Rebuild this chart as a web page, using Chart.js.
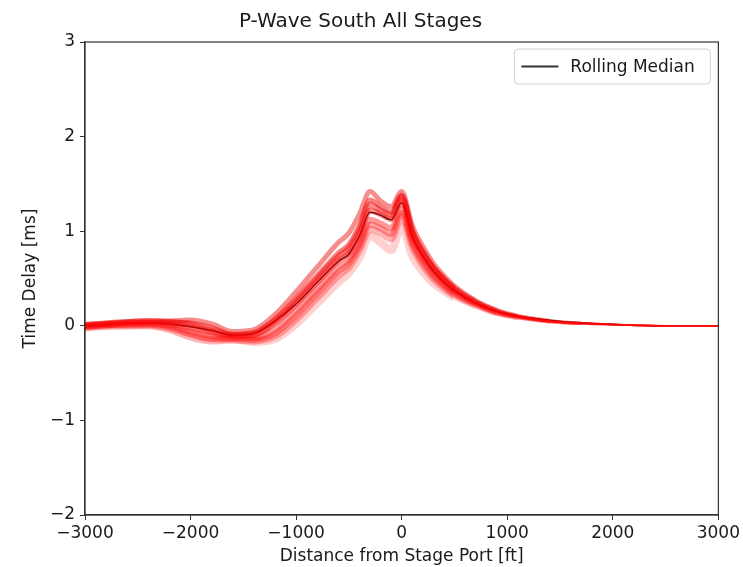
<!DOCTYPE html>
<html>
<head>
<meta charset="utf-8">
<script src="https://cdn.jsdelivr.net/npm/chart.js@4.4.1/dist/chart.umd.min.js"></script>
<style>
  html, body { margin: 0; padding: 0; background: #fff; }
  #wrap { width: 743px; height: 567px; }
</style>
</head>
<body>
<div id="wrap"><canvas id="chart-pwave"></canvas></div>
<script>
// Distance grid shared by all stage traces (ft)
const distances = [-3000, -2700, -2400, -2200, -2000, -1800, -1600, -1400, -1200, -1000, -800, -600, -500, -400, -300, -200, -100, 0, 100, 200, 300, 400, 500, 700, 900, 1100, 1400, 1700, 2100, 2500, 3000];

// Per-stage time delays (ms)
const stageA = [0.01, 0.04, 0.05, 0.05, 0.06, 0.02, -0.06, -0.04, 0.12, 0.36, 0.62, 0.88, 0.98, 1.18, 1.42, 1.32, 1.26, 1.42, 1.06, 0.84, 0.66, 0.53, 0.42, 0.27, 0.17, 0.11, 0.06, 0.03, 0.01, 0.0, 0.0];
const stageB = [0.0, 0.03, 0.04, 0.04, 0.03, -0.02, -0.09, -0.07, 0.07, 0.29, 0.53, 0.77, 0.86, 1.06, 1.33, 1.26, 1.20, 1.38, 1.01, 0.79, 0.62, 0.50, 0.40, 0.26, 0.16, 0.10, 0.05, 0.03, 0.01, 0.0, 0.0];
const stageC = [0.0, 0.02, 0.03, 0.02, -0.02, -0.07, -0.11, -0.10, 0.03, 0.23, 0.46, 0.69, 0.77, 0.96, 1.22, 1.18, 1.13, 1.32, 0.96, 0.75, 0.59, 0.47, 0.37, 0.24, 0.15, 0.10, 0.05, 0.03, 0.01, 0.0, 0.0];
const stageD = [-0.01, 0.01, 0.02, 0.0, -0.06, -0.11, -0.13, -0.13, -0.04, 0.16, 0.39, 0.62, 0.70, 0.88, 1.12, 1.08, 1.03, 1.24, 0.90, 0.70, 0.55, 0.44, 0.35, 0.23, 0.14, 0.09, 0.05, 0.02, 0.01, 0.0, 0.0];
const stageE = [-0.02, 0.0, 0.0, -0.04, -0.12, -0.16, -0.15, -0.16, -0.11, 0.07, 0.30, 0.53, 0.62, 0.80, 1.02, 0.98, 0.92, 1.15, 0.84, 0.64, 0.50, 0.40, 0.32, 0.21, 0.13, 0.08, 0.04, 0.02, 0.01, 0.0, 0.0];
const stageF = [-0.01, 0.0, 0.01, -0.02, -0.08, -0.13, -0.14, -0.17, -0.14, 0.02, 0.24, 0.46, 0.56, 0.72, 0.95, 0.88, 0.80, 1.05, 0.74, 0.57, 0.45, 0.37, 0.30, 0.20, 0.12, 0.08, 0.04, 0.02, 0.01, 0.0, 0.0];
const stageG = [0.01, 0.03, 0.05, 0.04, 0.01, -0.05, -0.10, -0.09, 0.05, 0.26, 0.50, 0.73, 0.82, 1.01, 1.28, 1.22, 1.17, 1.36, 0.99, 0.77, 0.61, 0.49, 0.39, 0.25, 0.16, 0.10, 0.05, 0.03, 0.01, 0.0, 0.0];
const stageH = [-0.01, 0.01, 0.01, -0.02, -0.09, -0.14, -0.14, -0.15, -0.08, 0.11, 0.34, 0.57, 0.66, 0.84, 1.07, 1.03, 0.97, 1.19, 0.87, 0.67, 0.52, 0.42, 0.33, 0.22, 0.13, 0.09, 0.04, 0.02, 0.01, 0.0, 0.0];

// Rolling median across stages (stops before the far end)
const rollingMedian = [0.0, 0.02, 0.03, 0.02, -0.01, -0.05, -0.10, -0.08, 0.05, 0.23, 0.46, 0.68, 0.76, 0.95, 1.20, 1.17, 1.12, 1.30, 0.95, 0.74, 0.58, 0.46, 0.37, 0.24, 0.15, 0.10, 0.06, 0.03, 0.01, null, null];

const xTicks = [-3000, -2000, -1000, 0, 1000, 2000, 3000];
const yTicks = [-2, -1, 0, 1, 2, 3];

const FONT = 'DejaVu Sans, sans-serif';
const INK = '#1a1a1a';

// Pale, wide traces first so the saturated ones sit on top
const stageSeries = [
    { data: stageF, color: 'rgba(255,20,20,0.20)', width: 8 },
    { data: stageE, color: 'rgba(255,0,0,0.30)', width: 7 },
    { data: stageH, color: 'rgba(255,0,0,0.35)', width: 6 },
    { data: stageD, color: 'rgba(255,0,0,0.40)', width: 6 },
    { data: stageC, color: 'rgba(250,0,0,0.45)', width: 6 },
    { data: stageG, color: 'rgba(245,0,0,0.45)', width: 6 },
    { data: stageB, color: 'rgba(240,0,0,0.50)', width: 5 },
    { data: stageA, color: 'rgba(235,0,0,0.45)', width: 5 }
];

const toPoints = (ys) => distances.map((x, i) => ({ x: x, y: ys[i] }));

// Traces collapse onto one another far from the port, so thin them out gradually
const tailWidth = (seg) => {
    const x = seg.p0.parsed.x;
    if (x >= 1700) return 1.8;
    if (x >= 1400) return 2.3;
    if (x >= 1100) return 2.8;
    if (x >= 900) return 3.4;
    if (x >= 700) return 4;
    if (x >= 500) return 4.6;
    return undefined;
};

const datasets = stageSeries.map((s, i) => ({
    label: 'stage ' + (i + 1),
    data: toPoints(s.data),
    borderColor: s.color,
    borderWidth: s.width,
    pointRadius: 0,
    cubicInterpolationMode: 'monotone',
    segment: { borderWidth: tailWidth },
    showInLegend: false
}));

datasets.push({
    label: 'Rolling Median',
    data: toPoints(rollingMedian),
    borderColor: '#111',
    borderWidth: 1.5,
    pointRadius: 0,
    cubicInterpolationMode: 'monotone',
    spanGaps: false,
    showInLegend: true
});

// Axes frame on all four sides plus a boxed legend in the upper right
const framePlugin = {
    id: 'frameAndLegend',
    afterDraw(chart) {
        const { ctx, chartArea: a } = chart;
        ctx.save();
        ctx.strokeStyle = '#333';
        ctx.lineWidth = 1.2;
        ctx.strokeRect(a.left, a.top, a.right - a.left, a.bottom - a.top);

        const items = chart.data.datasets.filter(d => d.showInLegend);
        const boxW = 196, boxH = 35;
        const bx = a.right - 8 - boxW, by = a.top + 7;
        ctx.beginPath();
        ctx.roundRect(bx, by, boxW, boxH, 4);
        ctx.fillStyle = 'rgba(255,255,255,0.8)';
        ctx.fill();
        ctx.strokeStyle = '#d0d0d0';
        ctx.lineWidth = 1;
        ctx.stroke();

        items.forEach((d, i) => {
            const cy = by + boxH / 2 + i * 22;
            ctx.beginPath();
            ctx.moveTo(bx + 7, cy);
            ctx.lineTo(bx + 44, cy);
            ctx.strokeStyle = '#333';
            ctx.lineWidth = 1.8;
            ctx.stroke();
            ctx.fillStyle = INK;
            ctx.font = '17px ' + FONT;
            ctx.textBaseline = 'middle';
            ctx.textAlign = 'left';
            ctx.fillText(d.label, bx + 56, cy + 1);
        });
        ctx.restore();
    }
};

new Chart(document.getElementById('chart-pwave'), {
    type: 'line',
    data: { datasets: datasets },
    options: {
        responsive: true,
        maintainAspectRatio: false,
        animation: false,
        events: [],
        layout: { padding: { top: 0, right: 22, left: 0, bottom: 0 } },
        plugins: {
            legend: { display: false },
            tooltip: { enabled: false },
            title: {
                display: true,
                text: 'P-Wave South All Stages',
                color: INK,
                font: { family: FONT, size: 20, weight: 'normal' },
                padding: { top: 10, bottom: 8 }
            }
        },
        scales: {
            x: {
                type: 'linear',
                min: -3000,
                max: 3000,
                afterBuildTicks: (scale) => { scale.ticks = xTicks.map(v => ({ value: v })); },
                afterFit: (scale) => { scale.height = 52; },
                grid: { display: true, drawOnChartArea: false, drawTicks: true, tickLength: 5, color: '#333' },
                border: { display: true, color: '#333', width: 1.2 },
                ticks: {
                    color: INK,
                    padding: 3,
                    maxRotation: 0,
                    font: { family: FONT, size: 17 },
                    callback: (v) => String(v).replace('-', '\u2212')
                },
                title: {
                    display: true,
                    text: 'Distance from Stage Port [ft]',
                    color: INK,
                    font: { family: FONT, size: 17 },
                    padding: { top: 0, bottom: 0 }
                }
            },
            y: {
                type: 'linear',
                min: -2,
                max: 3,
                afterBuildTicks: (scale) => { scale.ticks = yTicks.map(v => ({ value: v })); },
                afterFit: (scale) => { scale.width = 85; },
                grid: { display: true, drawOnChartArea: false, drawTicks: true, tickLength: 5, color: '#333' },
                border: { display: true, color: '#333', width: 1.2 },
                ticks: {
                    color: INK,
                    padding: 5,
                    font: { family: FONT, size: 17 },
                    callback: (v) => String(v).replace('-', '\u2212')
                },
                title: {
                    display: true,
                    text: 'Time Delay [ms]',
                    color: INK,
                    font: { family: FONT, size: 17 },
                    padding: { top: 20, bottom: 0 }
                }
            }
        }
    },
    plugins: [framePlugin]
});
</script>
</body>
</html>
